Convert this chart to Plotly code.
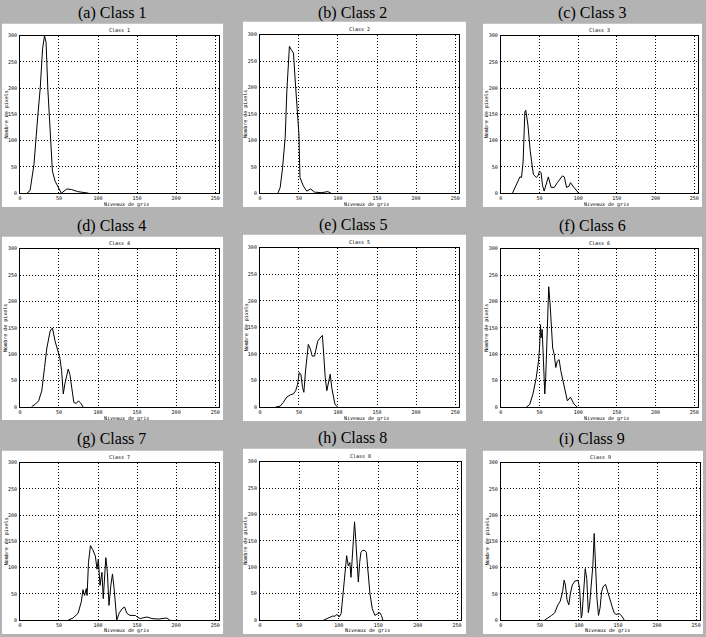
import plotly.graph_objects as go

W, H = 706, 637

panel_titles = ["(a) Class 1", "(b) Class 2", "(c) Class 3",
                "(d) Class 4", "(e) Class 5", "(f) Class 6",
                "(g) Class 7", "(h) Class 8", "(i) Class 9"]
inner_titles = ["Class 1", "Class 2", "Class 3", "Class 4", "Class 5",
                "Class 6", "Class 7", "Class 8", "Class 9"]
x_label = "Niveaux de gris"
y_label = "Nombre de pixels"
x_ticks = [0, 50, 100, 150, 200, 250]
y_ticks = [0, 50, 100, 150, 200, 250, 300]

x_c1 = [9, 13, 18, 20, 23, 26, 29, 31.5, 33.5, 35.7, 38.7, 41.6, 45, 49, 53, 60, 66, 74, 85, 88]
y_c1 = [0, 5, 55, 99, 149, 200, 275, 300, 287, 200, 124, 42, 23, 11, 0, 8, 7, 3, 1, 0]

x_c2 = [23, 26, 29, 32.4, 34.5, 36.6, 37.8, 40, 43, 45, 48, 50, 51.3, 55.5, 60, 65, 70, 79, 87, 91]
y_c2 = [0, 11, 48, 105, 193, 256, 278, 272, 265, 218, 162, 111, 30, 14, 4, 8, 2, 1, 3, 0]

x_c3 = [15, 20, 24.6, 26.7, 28.8, 31, 32.2, 35, 38, 42, 45.8, 48, 50, 52, 54, 56, 58.5, 61.4,
        65, 69, 73, 79.7, 82, 85, 88, 90, 94.5, 97.5, 100.8]
y_c3 = [0, 17, 31, 30, 61, 155, 158, 130, 80, 36, 30, 33, 42, 39, 14, 4, 17, 31,
        11, 11, 20, 33, 31, 11, 13, 20, 11, 6, 0]

x_c4 = [15, 20, 24, 28, 31.5, 34.5, 38.7, 41.6, 45, 48.3, 51, 53.4, 55.5, 57.6, 59.7, 61.8,
        64, 66, 69, 72, 75, 78.6, 81]
y_c4 = [1, 6, 12, 31, 75, 112, 144, 150, 125, 109, 94, 69, 25, 44, 56, 72,
        62, 37, 9, 7, 12, 6, 0]

x_c5 = [20, 26, 30, 34.5, 38.7, 43, 45.8, 48.3, 50.4, 52.5, 54.6, 56.3, 58.4, 60.5, 62, 64.7,
        67, 70, 72, 74, 77, 80, 82, 83.6, 85.7, 88, 90, 92, 94, 96, 98.7, 100]
y_c5 = [0, 2, 9, 19, 23, 25, 31, 43, 65, 62, 37, 28, 68, 99, 118, 109,
        96, 96, 109, 124, 130, 135, 93, 56, 31, 47, 62, 37, 19, 6, 1, 0]

x_c6 = [33, 37.3, 41.5, 45.8, 48.7, 50, 51.3, 52, 53.4, 55, 56.8, 58, 59.3, 60.6, 61.9, 63.6,
        65, 67, 69, 71, 73, 75.4, 77.5, 81.8, 86, 90, 94.5, 98.7]
y_c6 = [0, 5, 25, 56, 87, 112, 156, 131, 147, 81, 25, 56, 125, 194, 228, 197,
        156, 112, 100, 75, 87, 90, 69, 37, 12, 19, 6, 0]

x_c7 = [61.8, 68, 74.4, 78.6, 80.7, 82.8, 85, 86, 87.8, 90.3, 93, 96.6, 98.7, 100.4, 102.5,
        105, 106.7, 108.8, 110, 112, 114, 116.4, 118.5, 120.6, 122, 124, 127, 131, 134, 137,
        140.8, 148, 150, 154, 162.6, 169, 177, 183.6, 188, 192]
y_c7 = [0, 4, 13, 35, 58, 47, 60, 47, 110, 142, 135, 122, 97, 116, 66,
        91, 41, 110, 119, 91, 28, 66, 88, 60, 28, 0, 13, 22, 25, 13,
        9, 9, 6, 3, 6, 3, 2, 3, 4, 0]

x_c8 = [80.7, 87, 92, 95.4, 97.5, 100.4, 103, 106, 108, 110, 112, 114, 115.5, 117, 119, 120,
        121.5, 123, 124.8, 126.5, 128, 130, 133, 135, 137, 139.5, 142.4, 145.8, 149, 152, 154, 156]
y_c8 = [0, 4, 7.5, 7.5, 11, 6, 12.5, 59, 100, 122, 103, 109, 81, 122, 159, 186,
        153, 115, 72, 109, 128, 132, 132, 128, 91, 50, 22, 9, 12, 14, 9, 0]

x_c9 = [56, 60.6, 65, 69, 73, 76, 79, 81, 82.6, 84.7, 87, 89, 91.5, 94.5, 98.7, 100.8, 103,
        104, 106, 108, 110, 112, 113.6, 115.7, 117.8, 119.5, 121, 123, 125, 127, 129, 131,
        134, 136, 139, 142.4, 145, 147.5, 151.7, 155, 158]
y_c9 = [0, 4, 9, 14, 29, 36, 54, 76, 67, 39, 29, 51, 67, 74, 76, 61, 4,
        11, 61, 98, 79, 14, 29, 67, 104, 165, 98, 42, 9, 23, 54, 64,
        68, 57, 42, 26, 14, 11, 12, 7.5, 0]

series_x = [x_c1, x_c2, x_c3, x_c4, x_c5, x_c6, x_c7, x_c8, x_c9]
series_y = [y_c1, y_c2, y_c3, y_c4, y_c5, y_c6, y_c7, y_c8, y_c9]

# layout geometry in pixels (left, top, right, bottom)
plot_boxes = [(18, 33, 218, 192), (259, 32, 459, 192), (501, 33, 699, 192),
              (18, 248, 218, 408), (259, 247, 459, 408), (501, 248, 699, 408),
              (18, 464, 218, 623), (259, 463, 461, 623), (501, 464, 701, 623)]
white_boxes = [(0, 21, 222, 206), (242, 19, 466, 206), (483, 21, 703, 206),
               (0, 236, 222, 421), (242, 234, 466, 422), (483, 236, 703, 422),
               (0, 452, 222, 637), (242, 450, 466, 637), (483, 452, 704, 637)]
title_pos = [(110, 10), (352, 10), (593, 10),
             (110, 225), (352, 224), (593, 225),
             (110, 440), (352, 439), (593, 440)]

def px(x):
    return x / W

def py(y):
    return 1 - y / H

fig = go.Figure()
shapes = []
annotations = []
tiny = dict(family="DejaVu Sans Mono", size=5, color="black")

for i in range(9):
    n = "" if i == 0 else str(i + 1)
    l, t, r, b = plot_boxes[i]
    fig.add_trace(go.Scatter(x=series_x[i], y=series_y[i], mode="lines",
                             line=dict(color="black", width=1),
                             xaxis="x" + n, yaxis="y" + n,
                             showlegend=False, hoverinfo="skip"))
    axis_common = dict(showline=True, mirror=True, linecolor="black", linewidth=1,
                       showgrid=True, gridcolor="black", gridwidth=1, griddash="1px,2px",
                       zeroline=False, ticks="", tickfont=tiny, fixedrange=True,
                       ticklabeloverflow="allow", ticklabelposition="outside")
    fig.layout["xaxis" + n] = dict(axis_common, domain=[px(l), px(r)], range=[0, 255],
                                   tickvals=x_ticks, ticktext=[str(v) for v in x_ticks],
                                   anchor="y" + n, ticklabelstandoff=0)
    fig.layout["yaxis" + n] = dict(axis_common, domain=[py(b), py(t)], range=[0, 300],
                                   tickvals=y_ticks, ticktext=[str(v) for v in y_ticks],
                                   anchor="x" + n, ticklabelstandoff=1)
    wl, wt, wr, wb = white_boxes[i]
    shapes.append(dict(type="rect", xref="paper", yref="paper",
                       x0=px(wl), x1=px(wr), y0=py(wb), y1=py(wt),
                       fillcolor="white", line=dict(width=0), layer="below"))
    cx, cy = title_pos[i]
    annotations.append(dict(text=panel_titles[i], x=px(cx), y=py(cy), xref="paper", yref="paper",
                            showarrow=False, xanchor="center", yanchor="middle",
                            font=dict(family="Liberation Serif", size=16, color="black")))
    annotations.append(dict(text=inner_titles[i], x=px((l + r) / 2), y=py(t - 6),
                            xref="paper", yref="paper", showarrow=False,
                            xanchor="center", yanchor="middle", font=tiny))
    annotations.append(dict(text=x_label, x=px((l + r) / 2 + 7), y=py(min(b + 11, 633)),
                            xref="paper", yref="paper", showarrow=False,
                            xanchor="center", yanchor="middle", font=tiny, borderpad=0))
    annotations.append(dict(text=y_label, x=px(l - 14), y=py((t + b) / 2),
                            xref="paper", yref="paper", showarrow=False, textangle=-90,
                            xanchor="center", yanchor="middle", font=tiny))

fig.update_layout(width=W, height=H, margin=dict(l=0, r=0, t=0, b=0),
                  paper_bgcolor="#b3b3b3", plot_bgcolor="white",
                  shapes=shapes, annotations=annotations)

fig.write_html("out.html", config={"displayModeBar": False},
               post_script="document.body.style.margin='0';"
                           "document.body.style.padding='0';"
                           "document.documentElement.style.overflow='hidden';")
